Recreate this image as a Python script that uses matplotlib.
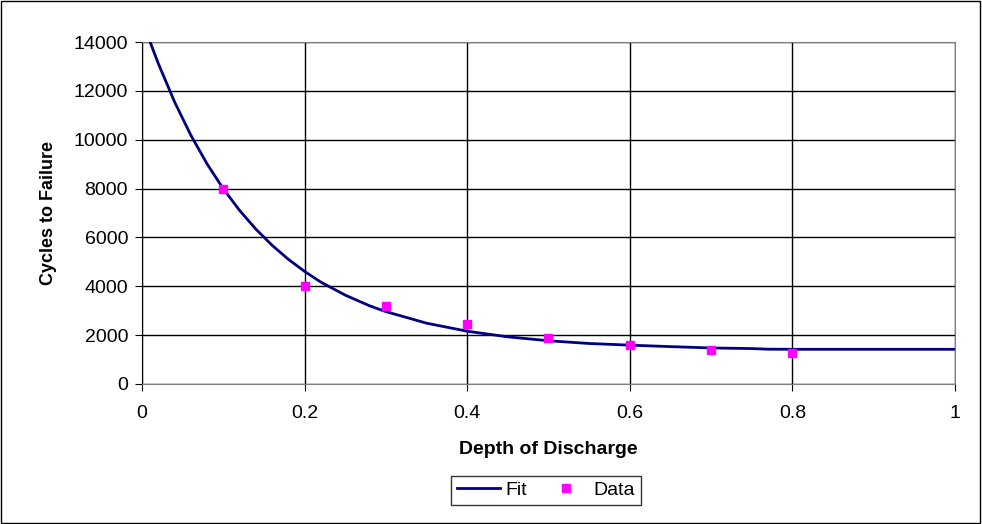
import matplotlib.pyplot as plt
from matplotlib.patches import Rectangle

plt.rcParams['font.family'] = ['Liberation Sans', 'DejaVu Sans']

# fit curve
fit_x = [0.01, 0.02, 0.04, 0.06, 0.08, 0.10, 0.12, 0.14, 0.16, 0.18, 0.20,
         0.22, 0.25, 0.28, 0.30, 0.33, 0.35, 0.40, 0.45, 0.50, 0.55, 0.60,
         0.65, 0.70, 0.75, 0.77, 0.80, 0.90, 1.00]
fit_y = [14000, 13124, 11552, 10191, 9012, 7990, 7107, 6342, 5679, 5105, 4608,
         4170, 3638, 3200, 2962, 2680, 2490, 2160, 1930, 1770, 1658, 1590,
         1530, 1475, 1450, 1425, 1420, 1420, 1420]

# measured data
data_x = [0.1, 0.2, 0.3, 0.4, 0.5, 0.6, 0.7, 0.8]
data_y = [8000, 4000, 3200, 2450, 1900, 1600, 1400, 1250]

fig = plt.figure(figsize=(9.82, 5.24), dpi=100)
ax = fig.add_axes([0.1446, 0.2672, 0.8279, 0.6526])

ax.plot(fit_x, fit_y, color='#000080', lw=2, label='Fit', zorder=3)
ax.plot(data_x, data_y, ls='none', marker='s', ms=6, color='#FF00FF',
        label='Data', zorder=4)

ax.set_xlim(0, 1)
ax.set_ylim(0, 14000)
ax.set_xticks([0, 0.2, 0.4, 0.6, 0.8, 1])
ax.set_xticklabels(['0', '0.2', '0.4', '0.6', '0.8', '1'])
ax.set_yticks(range(0, 14001, 2000))
ax.grid(True, color='black', lw=1)
ax.tick_params(labelsize=14, length=5, direction='out', color='black', pad=5)
ax.tick_params(axis='x', pad=10)

for s in ['top', 'right']:
    ax.spines[s].set_color('#808080')
ax.spines['bottom'].set_color('#808080')
ax.spines['left'].set_color('black')

ax.set_xlabel('Depth of Discharge', fontsize=14, fontweight='bold', labelpad=14)
ax.set_ylabel('Cycles to Failure', fontsize=13, fontweight='bold', labelpad=12)

leg = fig.legend(loc='center', bbox_to_anchor=(0.556, 0.064), ncol=2,
                 fontsize=14, frameon=True, fancybox=False, edgecolor='black',
                 handlelength=2.2, handletextpad=0.3, columnspacing=0.9,
                 borderpad=0.3, borderaxespad=0.3)
leg.get_frame().set_linewidth(1)

fig.patches.append(Rectangle((0.001, 0.001), 0.997, 0.997, transform=fig.transFigure,
                             fill=False, edgecolor='black', lw=1))

fig.savefig('out.png', dpi=100)
